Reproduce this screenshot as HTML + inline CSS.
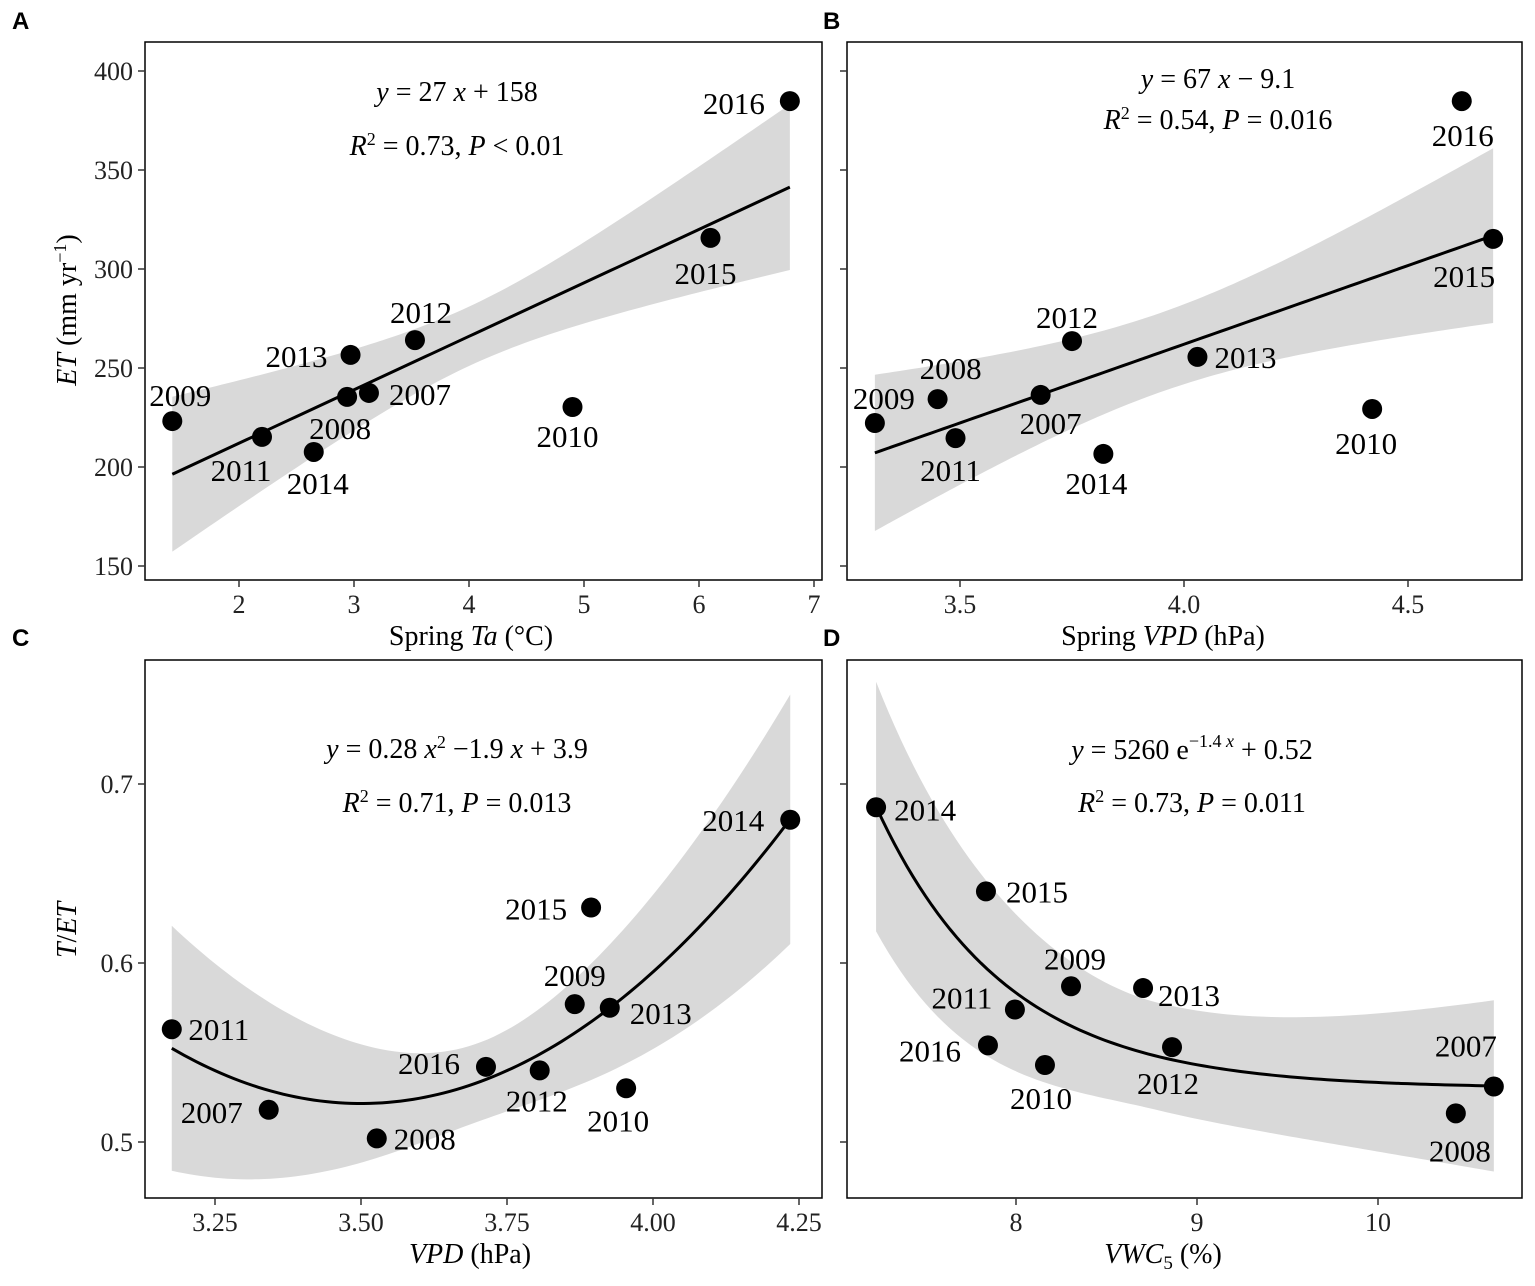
<!DOCTYPE html>
<html><head><meta charset="utf-8"><style>
body{margin:0;background:#fff}
svg{display:block;font-family:"Liberation Serif",serif}
</style></head><body>
<svg id="c" width="1535" height="1286" viewBox="0 0 1535 1286"></svg>
<script>
// ---- data ----
const yearsA=[2016,2015,2012,2013,2007,2008,2009,2011,2014,2010];
const xA=[6.79,6.10,3.53,2.97,3.13,2.94,1.42,2.20,2.65,4.90];
const yA=[384.8,315.7,264.1,256.6,237.4,235.4,223.2,215.2,207.6,230.3];
const fitA=[158,27];
const yearsB=[2016,2015,2012,2013,2008,2007,2009,2011,2014,2010];
const xB=[4.62,4.69,3.75,4.03,3.45,3.68,3.31,3.49,3.82,4.42];
const yB=[384.8,315.2,263.6,255.6,234.3,236.4,222.2,214.6,206.6,229.3];
const fitB=[-56,79.5];
const yearsC=[2014,2015,2009,2013,2016,2012,2010,2011,2007,2008];
const xC=[4.235,3.894,3.866,3.926,3.714,3.806,3.954,3.176,3.342,3.527];
const yC=[0.680,0.631,0.577,0.575,0.542,0.540,0.530,0.563,0.518,0.502];
const fitC=[4.123,-2.058,0.294];
const yearsD=[2014,2015,2009,2013,2011,2012,2016,2010,2007,2008];
const xD=[7.227,7.834,8.304,8.702,7.994,8.862,7.845,8.160,10.64,10.43];
const yD=[0.687,0.640,0.587,0.586,0.574,0.553,0.554,0.543,0.531,0.516];
const fitD=[3900,1.4,0.53];
const ticksA=[2,3,4,5,6,7], ticksB=[3.5,4.0,4.5], ticksC=[3.25,3.5,3.75,4.0,4.25], ticksD=[8,9,10];
const yTicksAB=[150,200,250,300,350,400], yTicksCD=[0.5,0.6,0.7];
const NS="http://www.w3.org/2000/svg", svg=document.getElementById('c');
function el(t,a,p){const e=document.createElementNS(NS,t);for(const k in a)e.setAttribute(k,a[k]);(p||svg).appendChild(e);return e;}
function lin(d0,d1,r0,r1){return v=>r0+(v-d0)*(r1-r0)/(d1-d0);}
const panels=[
 {name:'a',box:[145,42,822,580],sx:lin(2,7,239,814),sy:lin(200,400,467,71),xs:xA,ys:yA,yrs:yearsA,xt:ticksA,yt:yTicksAB,ylab:true,
  f:x=>fitA[0]+fitA[1]*x,h:x=>Math.sqrt(225+196*(x-4.0)**2),
  off:[[-56,2],[-5,35],[6,-28],[-54,1],[51,1],[-7,31],[8,-26],[-21,33],[4,31],[-5,29]],fmt:v=>String(v)},
 {name:'b',box:[847,42,1522,580],sx:lin(3.5,4.5,960,1408),sy:lin(200,400,467,71),xs:xB,ys:yB,yrs:yearsB,xt:ticksB,yt:yTicksAB,ylab:false,
  f:x=>fitB[0]+fitB[1]*x,h:x=>Math.sqrt(400+2826*(x-3.95)**2),
  off:[[1,34],[-29,37],[-5,-24],[48,0],[13,-31],[10,28],[9,-25],[-5,32],[-7,29],[-6,34]],fmt:v=>v.toFixed(1)},
 {name:'c',box:[145,660,822,1198],sx:lin(3.25,4.25,215,799),sy:lin(0.5,0.7,1142,784),xs:xC,ys:yC,yrs:yearsC,xt:ticksC,yt:yTicksCD,ylab:true,
  f:x=>fitC[0]+fitC[1]*x+fitC[2]*x*x,h:x=>Math.sqrt(0.00048+0.0153*(x-3.7)**2),
  off:[[-57,0],[-55,1],[0,-29],[51,5],[-57,-4],[-3,30],[-8,32],[47,0],[-57,2],[48,0]],fmt:v=>v.toFixed(2)},
 {name:'d',box:[847,660,1522,1198],sx:lin(8,10,1016,1378),sy:lin(0.5,0.7,1142,784),xs:xD,ys:yD,yrs:yearsD,xt:ticksD,yt:yTicksCD,ylab:false,
  f:x=>fitD[0]*Math.exp(-fitD[1]*x)+fitD[2],h:x=>Math.sqrt(0.0009+(x<8.8?0.0016:0.00041)*(x-8.8)**2),
  off:[[49,2],[51,0],[4,-28],[46,7],[-53,-12],[-4,36],[-58,5],[-4,33],[-28,-41],[4,37]],fmt:v=>String(v)}
];
panels.forEach(p=>{
 const g=el('g',{});
 
 
 const [x0,y0,x1,y1]=p.box;
 const xmin=Math.min(...p.xs), xmax=Math.max(...p.xs);
 let up=[],lo=[],ln=[];
 for(let i=0;i<=100;i++){const x=xmin+(xmax-xmin)*i/100;const y=p.f(x),h=p.h(x);
  up.push(p.sx(x)+','+p.sy(y+h));lo.push(p.sx(x)+','+p.sy(y-h));ln.push(p.sx(x)+','+p.sy(y));}
 const band=el('polygon',{points:up.concat(lo.reverse()).join(' '),fill:'#d9d9d9'},g);
 
 
 const fl=el('polyline',{points:ln.join(' '),fill:'none',stroke:'#000','stroke-width':3},g);
 
 
 p.xs.forEach((x,i)=>{
  const c=el('circle',{cx:p.sx(x),cy:p.sy(p.ys[i]),r:10,fill:'#000'},g);
  
  
  const t=el('text',{x:p.sx(x)+p.off[i][0],y:p.sy(p.ys[i])+p.off[i][1]+11,'font-size':31,'text-anchor':'middle',fill:'#000'},g);
  t.textContent=p.yrs[i];
  
  
 });
 const r=el('rect',{x:x0,y:y0,width:x1-x0,height:y1-y0,fill:'none',stroke:'#000','stroke-width':1.5},g);
 
 
 p.xt.forEach(v=>{const X=p.sx(v);
  el('line',{x1:X,x2:X,y1:y1,y2:y1+7,stroke:'#333','stroke-width':1.5},g);
  const t=el('text',{x:X,y:y1+33,'font-size':26,'text-anchor':'middle',fill:'#222'},g);
  t.textContent=p.fmt(v);
  
  });
 p.yt.forEach(v=>{const Y=p.sy(v);
  el('line',{x1:x0-7,x2:x0,y1:Y,y2:Y,stroke:'#333','stroke-width':1.5},g);
  if(p.ylab){const t=el('text',{x:x0-12,y:Y+9,'font-size':26,'text-anchor':'end',fill:'#222'},g);
   t.textContent=p.name=='a'?String(v):v.toFixed(1);
   
   }});
});
</script>
<svg style="position:absolute;left:0;top:0" width="1535" height="1286" font-family="Liberation Serif, serif">
<g font-family="Liberation Sans, sans-serif" font-weight="bold" font-size="24">
<text x="12" y="29">A</text><text x="823" y="29">B</text><text x="12" y="646">C</text><text x="823" y="646">D</text></g>
<g font-size="28" text-anchor="middle">
<text x="457" y="101"><tspan font-style="italic">y</tspan> = 27 <tspan font-style="italic">x</tspan> + 158</text>
<text x="457" y="155"><tspan font-style="italic">R</tspan><tspan dy="-10" font-size="18">2</tspan><tspan dy="10"> = 0.73,  </tspan><tspan font-style="italic">P</tspan>  &lt; 0.01</text>
<text x="1218" y="88"><tspan font-style="italic">y</tspan> = 67 <tspan font-style="italic">x</tspan> − 9.1</text>
<text x="1218" y="129"><tspan font-style="italic">R</tspan><tspan dy="-10" font-size="18">2</tspan><tspan dy="10"> = 0.54,  </tspan><tspan font-style="italic">P</tspan>  = 0.016</text>
<text x="457" y="758"><tspan font-style="italic">y</tspan> = 0.28 <tspan font-style="italic">x</tspan><tspan dy="-10" font-size="18">2</tspan><tspan dy="10"> −1.9 </tspan><tspan font-style="italic">x</tspan> + 3.9</text>
<text x="457" y="812"><tspan font-style="italic">R</tspan><tspan dy="-10" font-size="18">2</tspan><tspan dy="10"> = 0.71,  </tspan><tspan font-style="italic">P</tspan>  = 0.013</text>
<text x="1192" y="759"><tspan font-style="italic">y</tspan> = 5260 e<tspan dy="-12" font-size="18">−1.4 </tspan><tspan font-size="18" font-style="italic">x</tspan><tspan dy="12"> + 0.52</tspan></text>
<text x="1192" y="812"><tspan font-style="italic">R</tspan><tspan dy="-10" font-size="18">2</tspan><tspan dy="10"> = 0.73,  </tspan><tspan font-style="italic">P</tspan>  = 0.011</text>
</g>
<g font-size="28" text-anchor="middle" fill="#000">
<text x="471" y="645">Spring <tspan font-style="italic">Ta</tspan> (°C)</text>
<text x="1163" y="645">Spring <tspan font-style="italic">VPD</tspan> (hPa)</text>
<text x="470" y="1263"><tspan font-style="italic">VPD</tspan> (hPa)</text>
<text x="1163" y="1263"><tspan font-style="italic">VWC</tspan><tspan font-size="19" dy="6">5</tspan><tspan dy="-6"> (%)</tspan></text>
<text transform="translate(76,310) rotate(-90)"><tspan font-style="italic">ET</tspan> (mm yr<tspan dy="-10" font-size="18">−1</tspan><tspan dy="10">)</tspan></text>
<text transform="translate(76,930) rotate(-90)"><tspan font-style="italic">T</tspan>/<tspan font-style="italic">ET</tspan></text>
</g>
</svg>
</body></html>
